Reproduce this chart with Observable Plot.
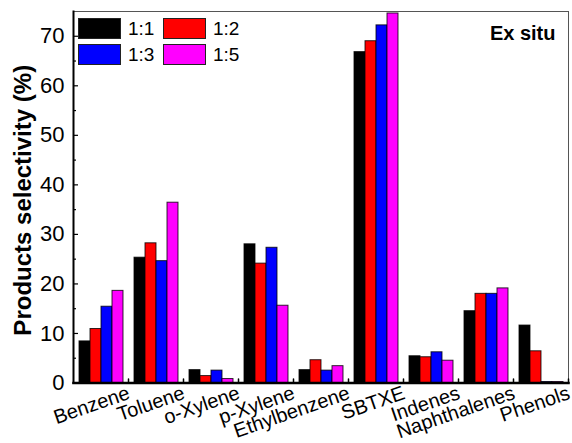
<!DOCTYPE html>
<html><head><meta charset="utf-8">
<script src="https://cdn.jsdelivr.net/npm/d3@7"></script>
<script src="https://cdn.jsdelivr.net/npm/@observablehq/plot@0.6"></script>
<style>
body{margin:0;background:#fff;font-family:"Liberation Sans",Arial,sans-serif;}
#wrap{position:relative;width:572px;height:443px;overflow:hidden;}
#legend{position:absolute;left:78px;top:18px;display:grid;grid-template-columns:85px 85px;grid-auto-rows:25.5px;}
#legend .item{display:flex;align-items:flex-start;font-size:19px;line-height:21px;color:#000;}
#legend .sw{width:43px;height:21px;box-sizing:border-box;border:1px solid #222;margin-right:7px;}
</style></head><body><div id="wrap"></div>
<script>
const categories = ["Benzene","Toluene","o-Xylene","p-Xylene","Ethylbenzene","SBTXE","Indenes","Naphthalenes","Phenols"];
const ratios = ["1:1","1:2","1:3","1:5"];
const colors = ["#000000","#ff0000","#0000ff","#ff00ff"];
const v11 = [8.4,25.3,2.6,28.0,2.6,66.8,5.4,14.5,11.6];
const v12 = [10.9,28.2,1.4,24.1,4.6,69.0,5.2,18.0,6.4];
const v13 = [15.4,24.6,2.5,27.3,2.5,72.2,6.2,18.0,0.2];
const v15 = [18.6,36.4,0.8,15.6,3.4,74.6,4.5,19.1,0.2];
const yTickLabels = [0,10,20,30,40,50,60,70];
const yMinorTicks = [5,15,25,35,45,55,65];
const yTitle = "Products selectivity (%)";
const panelLabel = "Ex situ";
const legendOrder = ["1:1","1:2","1:3","1:5"];

const series = [v11, v12, v13, v15];
const data = categories.flatMap((c, i) => ratios.map((r, j) => ({category: c, ratio: r, value: series[j][i]})));

const font = "Liberation Sans, Arial, sans-serif";
const chart = Plot.plot({
  width: 572, height: 443,
  marginLeft: 72, marginRight: 4, marginTop: 11, marginBottom: 60.5,
  style: {fontFamily: font, background: "white", overflow: "visible", color: "#000"},
  fx: {domain: categories, padding: 0, axis: null},
  x: {domain: ratios, paddingInner: 0, paddingOuter: 0.46, axis: null},
  y: {domain: [0, 75]},
  color: {domain: ratios, range: colors},
  marks: [
    Plot.barY(data, {fx: "category", x: "ratio", y: "value", fill: "ratio", stroke: "#000", strokeWidth: 1, strokeOpacity: 0.8}),
    Plot.frame({facet: "super", stroke: "#555", strokeWidth: 1}),
    Plot.frame({facet: "super", anchor: "left", stroke: "#000", strokeWidth: 2}),
    Plot.frame({facet: "super", anchor: "bottom", stroke: "#000", strokeWidth: 2.5}),
    Plot.axisY(yTickLabels, {tickSize: 0, tickPadding: 9, fontSize: 22, label: null}),
    Plot.axisY(yTickLabels, {tickSize: -5, tickFormat: () => "", label: null, strokeWidth: 1.2}),
    Plot.axisY(yMinorTicks, {tickSize: -3, tickFormat: () => "", label: null, strokeWidth: 1.2}),
    Plot.vector([0], {frameAnchor: "bottom-right", length: 4, rotate: 0, anchor: "start", stroke: "#000", strokeWidth: 1.5,
      shape: {draw(ctx, l) { ctx.moveTo(0, 0); ctx.lineTo(0, -l); }}}),
    Plot.text(categories, {fx: d => d, text: d => d, frameAnchor: "bottom-right", rotate: -19, textAnchor: "end", lineAnchor: "top", fontSize: 20, dx: -2, dy: 2}),
    Plot.text([panelLabel], {facet: "super", frameAnchor: "top-right", text: d => d, textAnchor: "end", lineAnchor: "top", fontSize: 20, fontWeight: "bold", dx: -13, dy: 14}),
    Plot.text([yTitle], {facet: "super", frameAnchor: "left", text: d => d, rotate: -90, textAnchor: "middle", fontSize: 24, fontWeight: "bold", dx: -50, dy: 3})
  ]
});
const wrap = document.getElementById("wrap");
wrap.appendChild(chart);
const lg = d3.select(wrap).append("div").attr("id", "legend");
legendOrder.forEach(r => {
  const it = lg.append("div").attr("class", "item");
  it.append("div").attr("class", "sw").style("background", colors[ratios.indexOf(r)]);
  it.append("span").text(r);
});
</script></body></html>
